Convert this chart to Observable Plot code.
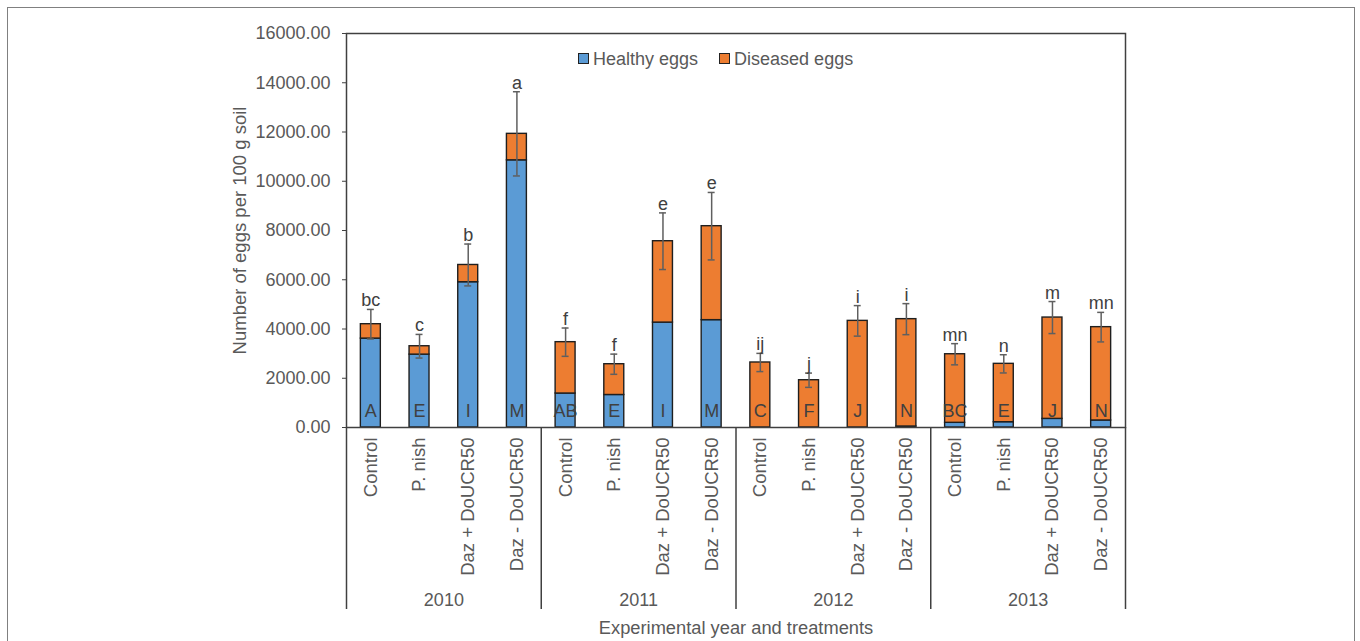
<!DOCTYPE html>
<html>
<head>
<meta charset="utf-8">
<script src="https://cdn.jsdelivr.net/npm/d3@7"></script>
<script src="https://cdn.jsdelivr.net/npm/@observablehq/plot@0.6"></script>
<style>
  html, body { margin: 0; padding: 0; background: #fff; overflow: hidden; }
  #wrap { position: relative; width: 1360px; height: 641px; overflow: hidden; }
  #outer { position: absolute; left: 7px; top: 7px; width: 1346px; height: 720px; border: 1.5px solid #808080; }
  #wrap svg { position: absolute; left: 0; top: 0; }
  #legend { position: absolute; left: 578px; top: 49px; font-family: "Liberation Sans", Arial, sans-serif; font-size: 18px; color: #595959; white-space: nowrap; }
  #legend .item { display: inline-block; margin-right: 21px; }
  #legend .sw { display: inline-block; width: 9px; height: 9px; border: 1px solid #222; margin-right: 4px; vertical-align: 1px; }
</style>
</head>
<body>
<div id="wrap"><div id="outer"></div></div>
<script>
const years = ["2010", "2011", "2012", "2013"];
const treatments = ["Control", "P. nish", "Daz + DoUCR50", "Daz - DoUCR50"];
const series = ["Healthy eggs", "Diseased eggs"];
const colors = ["#5B9BD5", "#ED7D31"];
// values per bar, in order year x treatment
const healthy  = [3610, 2960, 5900, 10850, 1380, 1320, 4260, 4360, 0, 0, 0, 40, 190, 215, 350, 285];
const diseased = [585, 340, 700, 1075, 2085, 1250, 3305, 3815, 2640, 1920, 4330, 4360, 2785, 2370, 4115, 3790];
const errors   = [600, 480, 850, 1710, 575, 410, 1150, 1370, 370, 290, 620, 630, 430, 370, 650, 600];
const lowerLetters = ["bc", "c", "b", "a", "f", "f", "e", "e", "ij", "j", "i", "i", "mn", "n", "m", "mn"];
const upperLetters = ["A", "E", "I", "M", "AB", "E", "I", "M", "C", "F", "J", "N", "BC", "E", "J", "N"];
const yTicks = [0, 2000, 4000, 6000, 8000, 10000, 12000, 14000, 16000];

const rows = [];
years.forEach((yr, yi) => treatments.forEach((tr, ti) => {
  const i = yi * treatments.length + ti;
  rows.push({key: yr + "|" + tr, year: yr, treatment: tr, healthy: healthy[i], diseased: diseased[i],
    total: healthy[i] + diseased[i], err: errors[i], lower: lowerLetters[i], upper: upperLetters[i]});
}));
const keys = rows.map(d => d.key);
const long = rows.flatMap(d => [
  {key: d.key, series: series[0], value: d.healthy},
  {key: d.key, series: series[1], value: d.diseased}
]);

const font = "'Liberation Sans', Arial, sans-serif";
const W = 1360, H = 641, ML = 346, MR = 235, MT = 33, MB = 214;

const main = Plot.plot({
  width: W, height: H, marginLeft: ML, marginRight: MR, marginTop: MT, marginBottom: MB,
  style: {fontFamily: font, fontSize: "18px", color: "#595959", background: "transparent"},
  x: {domain: keys, paddingInner: 0.59, paddingOuter: 0.295, round: false, axis: null},
  y: {domain: [0, 16000], axis: null},
  color: {domain: series, range: colors},
  marks: [
    Plot.axisY({ticks: yTicks, tickFormat: d3.format(".2f"), tickSize: 4, tickPadding: 12, stroke: "#404040", fill: "#595959", label: null, fontSize: 18}),
    Plot.text(rows, {x: "key", text: "treatment", frameAnchor: "bottom", rotate: -90, textAnchor: "end", lineAnchor: "middle", dy: 10, fill: "#595959", fontSize: 18.5}),
    Plot.barY(long, {x: "key", y: "value", fill: "series", stroke: "#1f1f1f", strokeWidth: 1.4}),
    Plot.frame({stroke: "#404040", strokeWidth: 1.5}),
    Plot.ruleX(rows, {x: "key", y1: d => d.total - d.err, y2: d => d.total + d.err, stroke: "#5f5f5f", strokeWidth: 1.5}),
    Plot.tickY(rows, {x: "key", y: d => d.total + d.err, insetLeft: 6.5, insetRight: 6.5, stroke: "#5f5f5f", strokeWidth: 1.5}),
    Plot.tickY(rows, {x: "key", y: d => d.total - d.err, insetLeft: 6.5, insetRight: 6.5, stroke: "#5f5f5f", strokeWidth: 1.5}),
    Plot.text(rows, {x: "key", y: d => d.total + d.err, text: "lower", lineAnchor: "bottom", dy: -3, fill: "#404040", fontSize: 18}),
    Plot.text(rows, {x: "key", y: 0, text: "upper", lineAnchor: "bottom", dy: -11, fill: "#404040", fontSize: 18}),
    Plot.text(["Number of eggs per 100 g soil"], {frameAnchor: "left", textAnchor: "middle", rotate: -90, dx: -106, fill: "#595959", fontSize: 18.5})
  ]
});

const overlay = Plot.plot({
  width: W, height: H, marginLeft: ML, marginRight: MR, marginTop: 427, marginBottom: 32,
  style: {fontFamily: font, fontSize: "18px", color: "#595959", background: "transparent"},
  x: {domain: [0, years.length], axis: null},
  y: {domain: [0, 1], axis: null},
  marks: [
    Plot.ruleX(d3.range(years.length + 1), {stroke: "#404040", strokeWidth: 1.5}),
    Plot.text(years, {x: (d, i) => i + 0.5, frameAnchor: "bottom", dy: -9, lineAnchor: "middle", fill: "#595959", fontSize: 18}),
    Plot.text(["Experimental year and treatments"], {frameAnchor: "bottom", dy: 19, lineAnchor: "middle", fill: "#595959", fontSize: 18.3})
  ]
});
overlay.style.pointerEvents = "none";

const wrap = document.getElementById("wrap");
wrap.appendChild(main);
wrap.appendChild(overlay);

const legend = document.createElement("div");
legend.id = "legend";
series.forEach((s, i) => {
  const item = document.createElement("span");
  item.className = "item";
  const sw = document.createElement("span");
  sw.className = "sw";
  sw.style.background = colors[i];
  item.appendChild(sw);
  item.appendChild(document.createTextNode(s));
  legend.appendChild(item);
});
wrap.appendChild(legend);
</script>
</body>
</html>
